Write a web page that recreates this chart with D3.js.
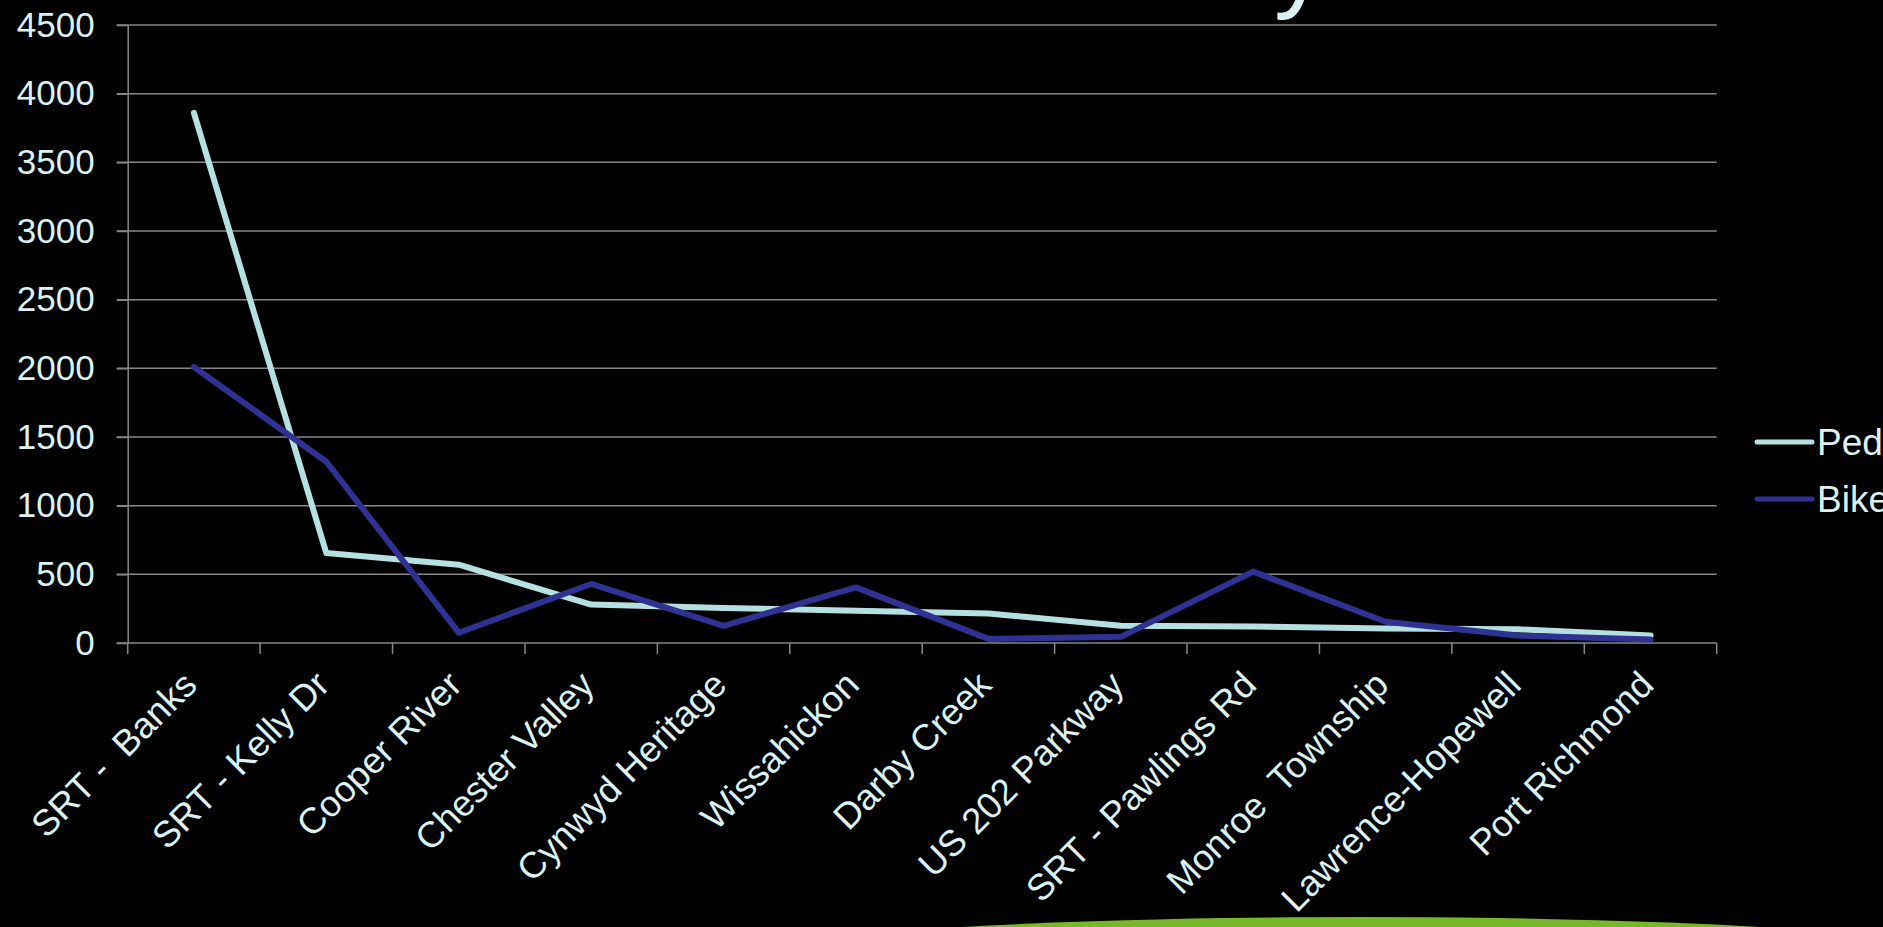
<!DOCTYPE html>
<html>
<head>
<meta charset="utf-8">
<script src="https://cdn.jsdelivr.net/npm/d3@7"></script>
<style>
  html, body { margin: 0; padding: 0; background: #000; overflow: hidden; }
  text { font-family: "Liberation Sans", Arial, sans-serif; }
</style>
</head>
<body>
<script>
// chart data
var trails = ["SRT -  Banks", "SRT - Kelly Dr", "Cooper River", "Chester Valley",
  "Cynwyd Heritage", "Wissahickon", "Darby Creek", "US 202 Parkway",
  "SRT - Pawlings Rd", "Monroe  Township", "Lawrence-Hopewell", "Port Richmond"];
var ped  = [3860, 655, 570, 280, 255, 235, 215, 125, 120, 105, 100, 55];
var bike = [2010, 1320, 75, 430, 125, 405, 30, 45, 520, 155, 55, 25];
var seriesNames = ["Ped", "Bike"];
var yTicks = [0, 500, 1000, 1500, 2000, 2500, 3000, 3500, 4000, 4500];

var W = 1883, H = 927;
var plotLeft = 127.7, plotRight = 1716.7, plotTop = 25, plotBottom = 643;
var textColor = "#dcf1f1", gridColor = "#878787";
var colors = ["#b5e0e1", "#2f3193"];

var svg = d3.select("body").append("svg")
    .attr("width", W)
    .attr("height", H)
    .style("background", "#000");

// green shape peeking in at the bottom
svg.append("ellipse")
    .attr("cx", 1361).attr("cy", 973)
    .attr("rx", 700).attr("ry", 56)
    .attr("fill", "#77b82b");

// tail of the slide title that is cut off at the top
svg.append("text")
    .attr("x", 1274).attr("y", -2)
    .attr("font-size", 105)
    .attr("fill", textColor)
    .text("y");

// scales
var x = d3.scaleBand().domain(trails).range([plotLeft, plotRight]);
var y = d3.scaleLinear().domain([0, 4500]).range([plotBottom, plotTop]);

// gridlines
svg.append("g").selectAll("line")
    .data(yTicks)
  .enter().append("line")
    .attr("x1", plotLeft - 11).attr("x2", plotRight)
    .attr("y1", function(d) { return y(d); })
    .attr("y2", function(d) { return y(d); })
    .attr("stroke", gridColor)
    .attr("stroke-width", 1.5);

// y axis
var yAxis = svg.append("g")
    .attr("transform", "translate(" + plotLeft + ",0)")
    .call(d3.axisLeft(y).tickValues(yTicks).tickFormat(d3.format("d"))
      .tickSizeInner(11).tickSizeOuter(0).tickPadding(22));
yAxis.select(".domain").attr("stroke", gridColor).attr("stroke-width", 1.5);
yAxis.selectAll(".tick line").attr("stroke", gridColor).attr("stroke-width", 1.5);
yAxis.selectAll(".tick text")
    .attr("fill", textColor)
    .attr("font-size", 35)
    .attr("font-family", "Liberation Sans, Arial, sans-serif");

// x axis: ticks sit on the category boundaries
var bounds = d3.range(trails.length + 1).map(function(i) { return plotLeft + i * x.step(); });
svg.append("g").selectAll("line")
    .data(bounds)
  .enter().append("line")
    .attr("x1", function(d) { return d; })
    .attr("x2", function(d) { return d; })
    .attr("y1", plotBottom).attr("y2", plotBottom + 11)
    .attr("stroke", gridColor)
    .attr("stroke-width", 1.5);

svg.append("g").selectAll("text")
    .data(trails)
  .enter().append("text")
    .attr("transform", function(d) {
      return "translate(" + (x(d) + x.bandwidth() / 2 + 5) + "," + (plotBottom + 44) + ")rotate(-45)";
    })
    .attr("text-anchor", "end")
    .attr("font-size", 36.5)
    .attr("fill", textColor)
    .style("white-space", "pre")
    .text(function(d) { return d; });

// lines
var line = d3.line()
    .x(function(d, i) { return x(trails[i]) + x.bandwidth() / 2; })
    .y(function(d) { return y(d); });

[ped, bike].forEach(function(s, i) {
  svg.append("path")
      .datum(s)
      .attr("d", line)
      .attr("fill", "none")
      .attr("stroke", colors[i])
      .attr("stroke-width", 6)
      .attr("stroke-linejoin", "round")
      .attr("stroke-linecap", "round");
});

// legend
var legend = svg.append("g").selectAll("g")
    .data(seriesNames)
  .enter().append("g")
    .attr("transform", function(d, i) { return "translate(1757," + (442 + i * 57) + ")"; });
legend.append("line")
    .attr("x1", 0).attr("x2", 55)
    .attr("stroke", function(d, i) { return colors[i]; })
    .attr("stroke-width", 5)
    .attr("stroke-linecap", "round");
legend.append("text")
    .attr("x", 60).attr("y", 12.5)
    .attr("font-size", 37)
    .attr("fill", textColor)
    .text(function(d) { return d; });
</script>
</body>
</html>
